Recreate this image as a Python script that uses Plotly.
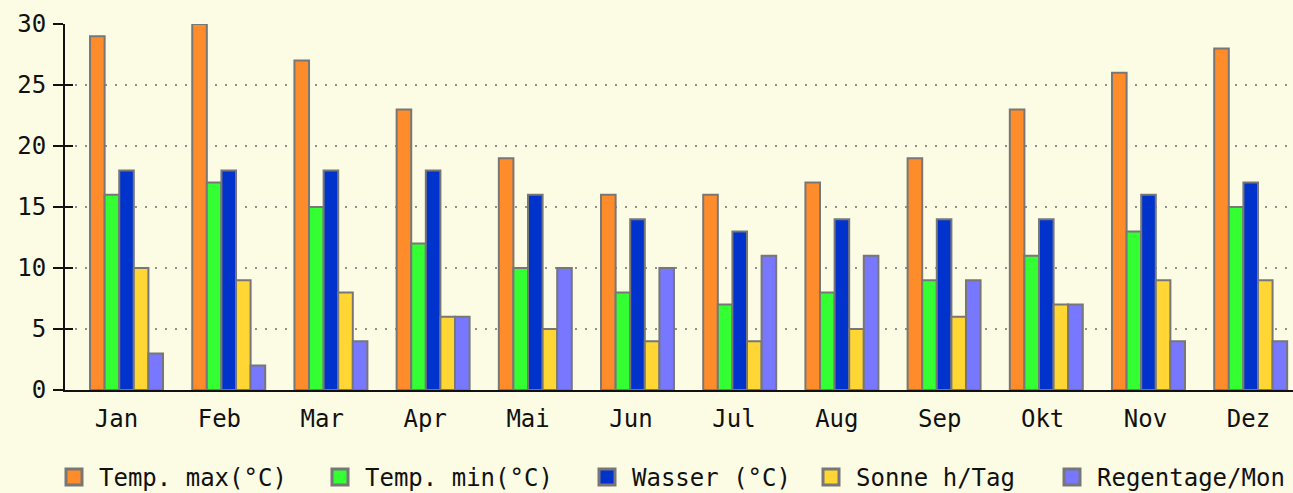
import plotly.graph_objects as go

months = ["Jan", "Feb", "Mar", "Apr", "Mai", "Jun", "Jul", "Aug", "Sep", "Okt", "Nov", "Dez"]
temp_max = [29, 30, 27, 23, 19, 16, 16, 17, 19, 23, 26, 28]
temp_min = [16, 17, 15, 12, 10, 8, 7, 8, 9, 11, 13, 15]
wasser = [18, 18, 18, 18, 16, 14, 13, 14, 14, 14, 16, 17]
sonne = [10, 9, 8, 6, 5, 4, 4, 5, 6, 7, 9, 9]
regentage = [3, 2, 4, 6, 10, 10, 11, 11, 9, 7, 4, 4]
y_ticks = [0, 5, 10, 15, 20, 25, 30]

series = [
    ("Temp. max(°C)", temp_max, "#FF8C2A"),
    ("Temp. min(°C)", temp_min, "#33FF33"),
    ("Wasser (°C)", wasser, "#0033CC"),
    ("Sonne h/Tag", sonne, "#FFD633"),
    ("Regentage/Mon", regentage, "#7777FF"),
]
legend_sym_center = [74, 340, 607, 831, 1072]

BG = "#FCFCE4"
FONT = "DejaVu Sans Mono"
FS = 24
W, H = 1293, 493

fig = go.Figure()
xs = list(range(len(months)))
for i, (name, vals, col) in enumerate(series):
    fig.add_trace(go.Bar(
        x=xs, y=vals, name=name, marker=dict(color=col, line=dict(color="#777777", width=2)),
        showlegend=False,
    ))
for i, (name, vals, col) in enumerate(series):
    lg = "legend" if i == 0 else f"legend{i+1}"
    fig.add_trace(go.Scatter(
        x=[None], y=[None], mode="markers", name=name, legend=lg,
        marker=dict(symbol="square", size=16, color=col, line=dict(color="#777777", width=3)),
    ))
# invisible helper trace for the label axis / inner tick axis
fig.add_trace(go.Scatter(x=xs, y=[None] * len(xs), xaxis="x2", yaxis="y2",
                         mode="markers", showlegend=False, hoverinfo="skip"))

layout = dict(
    width=W, height=H,
    paper_bgcolor=BG, plot_bgcolor=BG,
    margin=dict(l=65, r=0, t=24, b=103, autoexpand=False),
    barmode="group", bargap=0.286, bargroupgap=0,
    font=dict(family=FONT, size=FS, color="#111111"),
    xaxis=dict(
        range=[-0.602, 11.414], tickmode="array", tickvals=xs, showticklabels=False,
        showgrid=False, showline=True, linecolor="#111111", linewidth=2,
        ticks="", layer="below traces", zeroline=False, automargin=False,
    ),
    xaxis2=dict(
        range=[-0.5, 11.433], overlaying="x", side="bottom", anchor="y2",
        tickmode="array", tickvals=xs, ticktext=months,
        showgrid=False, showline=False, ticks="", zeroline=False,
        ticklabelstandoff=12, automargin=False,
    ),
    yaxis=dict(
        range=[0, 30], tickmode="array", tickvals=y_ticks,
        showgrid=True, gridcolor="#8F8F8F", gridwidth=1.8, griddash="2px,8px",
        showline=True, linecolor="#111111", linewidth=2,
        ticks="outside", ticklen=10, tickwidth=2, tickcolor="#111111",
        ticklabelstandoff=2, layer="below traces", zeroline=False,
        automargin=False,
    ),
    yaxis2=dict(
        range=[0, 30], overlaying="y", side="left", anchor="x2",
        tickmode="array", tickvals=y_ticks, showticklabels=False,
        showgrid=False, showline=False, zeroline=False,
        ticks="inside", ticklen=8, tickwidth=2, tickcolor="#111111",
        automargin=False,
    ),
)
for i, c in enumerate(legend_sym_center):
    key = "legend" if i == 0 else f"legend{i+1}"
    layout[key] = dict(
        xref="container", yref="container", x=(c - 25) / W, y=1 - 455 / H,
        xanchor="left", yanchor="top", bgcolor="rgba(0,0,0,0)",
        font=dict(family=FONT, size=FS, color="#111111"), itemwidth=40,
    )
fig.update_layout(**layout)
fig.write_html("out.html", config={"displayModeBar": False},
               post_script="document.body.style.margin='0px';")
